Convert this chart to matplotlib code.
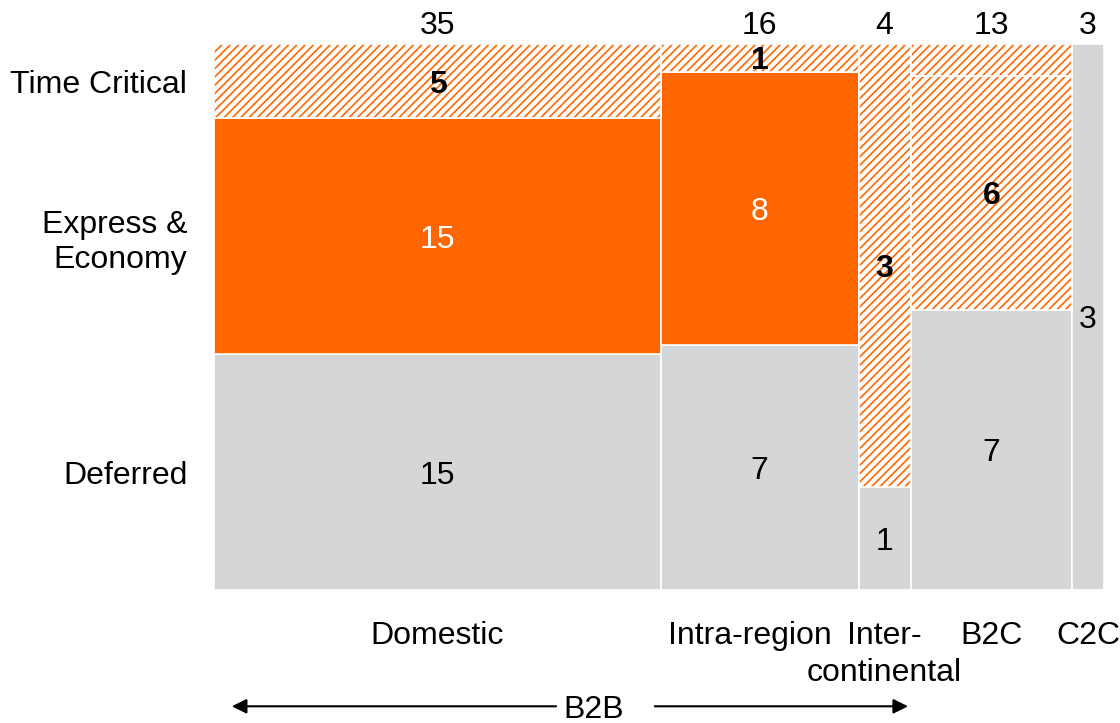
import numpy as np
import matplotlib.pyplot as plt

# column (channel) data; names may wrap onto a second line
columns = ["Domestic", "Intra-region", "Inter-", "B2C", "C2C"]
columns_line2 = ["", "", "continental", "", ""]
col_totals = [35, 16, 4, 13, 3]
# drawn widths of the columns (unrounded sizes)
col_widths = [35.5, 15.7, 4.15, 12.8, 2.55]

# share of each column taken by the segments
deferred_share = [0.432, 0.449, 0.189, 0.513, 1.0]
express_share = [0.432, 0.500, 0.811, 0.429, 0.0]
critical_share = [0.136, 0.051, 0.0, 0.058, 0.0]

deferred_lbl = ["15", "7", "1", "7", "3"]
express_lbl = ["15", "8", "3", "6", ""]
critical_lbl = ["5", "1", "", "", ""]
express_hatched = [False, False, True, True, False]

rows = ["Time Critical", "Express &\nEconomy", "Deferred"]

ORANGE = "#FF6600"
GREY = "#D5D6D8"

plt.rcParams["font.family"] = ["Liberation Sans", "DejaVu Sans"]
plt.rcParams["font.size"] = 23
plt.rcParams["hatch.linewidth"] = 1.2

fig = plt.figure(figsize=(11.2, 7.23), dpi=100)
ax = fig.add_axes([214 / 1120, 133 / 723, 890 / 1120, 546 / 723])

widths = np.array(col_widths, dtype=float)
lefts = np.concatenate([[0], np.cumsum(widths)[:-1]])
centers = lefts + widths / 2
d = np.array(deferred_share)
e = np.array(express_share)
c = np.array(critical_share)


def seg(bottom, height, hatched, solid_color):
    for x0, w, b, h, hz, sc in zip(lefts, widths, bottom, height, hatched, solid_color):
        if h <= 0:
            continue
        if hz:
            ax.bar(x0, h, w, bottom=b, align="edge", facecolor="white",
                   edgecolor=ORANGE, hatch="////", linewidth=0)
            ax.bar(x0, h, w, bottom=b, align="edge", fill=False,
                   edgecolor="white", linewidth=1.2)
        else:
            ax.bar(x0, h, w, bottom=b, align="edge", color=sc,
                   edgecolor="white", linewidth=1.2)


seg(np.zeros(5), d, [False] * 5, [GREY] * 5)
seg(d, e, express_hatched, [ORANGE] * 5)
seg(d + e, c, [True] * 5, [ORANGE] * 5)

VA = "center_baseline"

# segment labels
for i in range(5):
    if deferred_lbl[i]:
        ax.text(centers[i], d[i] / 2, deferred_lbl[i], ha="center", va=VA)
    if express_lbl[i]:
        if express_hatched[i]:
            ax.text(centers[i], d[i] + e[i] / 2, express_lbl[i], ha="center",
                    va=VA, fontweight="bold")
        else:
            ax.text(centers[i], d[i] + e[i] / 2, express_lbl[i], ha="center",
                    va=VA, color="white")
    if critical_lbl[i]:
        ax.text(centers[i], d[i] + e[i] + c[i] / 2, critical_lbl[i],
                ha="center", va=VA, fontweight="bold")

# column totals on top, names below (intra-region name sits a bit left)
tr = ax.get_xaxis_transform()
name_nudge = [0, -0.8, 0, 0, 0]
for i in range(5):
    ax.text(centers[i], 1.04, str(col_totals[i]), transform=tr,
            ha="center", va=VA)
    ax.text(centers[i] + name_nudge[i], -0.078, columns[i], transform=tr,
            ha="center", va=VA)
    if columns_line2[i]:
        ax.text(centers[i] + name_nudge[i], -0.145, columns_line2[i],
                transform=tr, ha="center", va=VA)

# row labels on the left, lined up with the Domestic column
row_y = [d[0] + e[0] + c[0] / 2, d[0] + e[0] / 2, d[0] / 2]
for lbl, y in zip(rows, row_y):
    ax.text(-0.03, y, lbl, transform=ax.get_yaxis_transform(),
            ha="right", va=VA, multialignment="right", linespacing=1.25)

# B2B bracket arrow under the first three columns
b2b_end = lefts[2] + widths[2]
y_arr = -0.213
ax.text(30.2, y_arr, "B2B", transform=tr, ha="center", va=VA)
arrow = dict(arrowstyle="-|>", color="black", lw=1.5, mutation_scale=22)
ax.annotate("", xy=(1.2, y_arr), xytext=(27.4, y_arr), xycoords=tr,
            textcoords=tr, arrowprops=arrow)
ax.annotate("", xy=(b2b_end, y_arr), xytext=(34.8, y_arr), xycoords=tr,
            textcoords=tr, arrowprops=arrow)

ax.set_xlim(0, widths.sum())
ax.set_ylim(0, 1)
ax.axis("off")

fig.savefig("out.png", dpi=100)
